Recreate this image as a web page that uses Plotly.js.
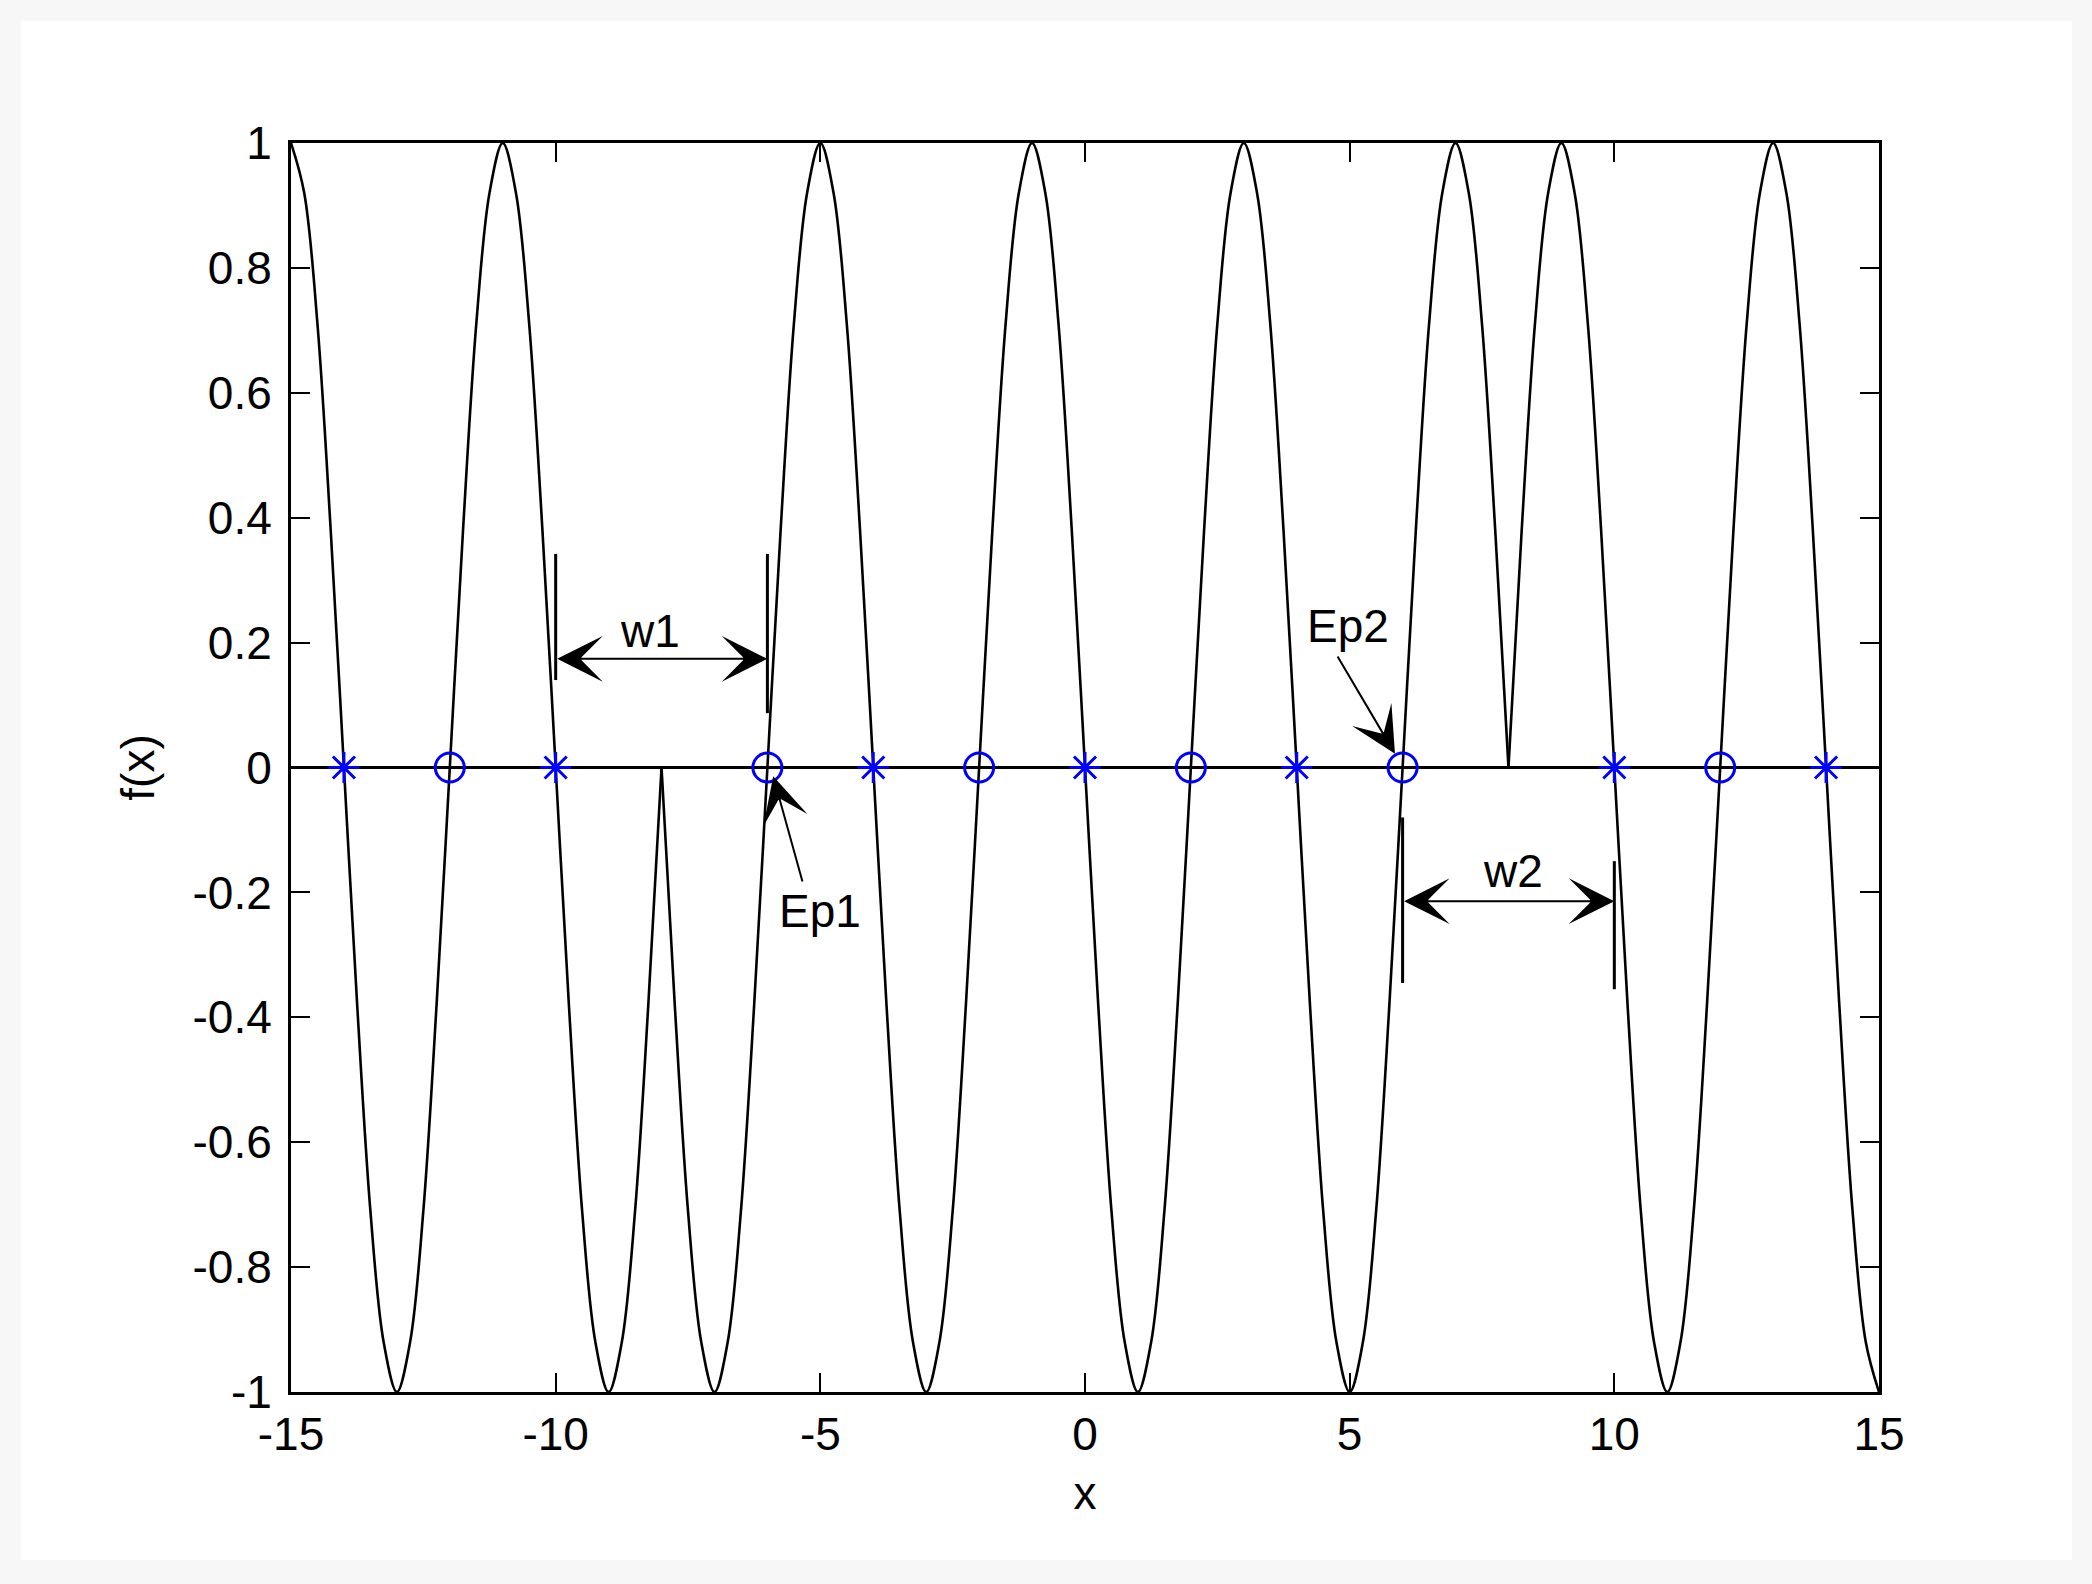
<!DOCTYPE html>
<html>
<head>
<meta charset="utf-8">
<script src="https://cdn.plot.ly/plotly-3.0.1.min.js"></script>
<style>
  html, body { margin: 0; padding: 0; background: #f7f7f7; }
  #plot { position: absolute; left: 21px; top: 21px; width: 2051px; height: 1539px; }
</style>
</head>
<body>
<div id="plot"></div>
<script>
// curve, three pieces (kinks at x=-8 and x=8)
var curveX = [
  -15, -14.75, -14.5, -14.25, -14, -13.75, -13.5, -13.25, -13, -12.75, -12.5, -12.25,
  -12, -11.75, -11.5, -11.25, -11, -10.75, -10.5, -10.25, -10, -9.75, -9.5, -9.25,
  -9, -8.75, -8.5, -8.25, -8, null,
  -8, -7.75, -7.5, -7.25, -7, -6.75, -6.5, -6.25, -6, -5.75, -5.5, -5.25,
  -5, -4.75, -4.5, -4.25, -4, -3.75, -3.5, -3.25, -3, -2.75, -2.5, -2.25,
  -2, -1.75, -1.5, -1.25, -1, -0.75, -0.5, -0.25, 0, 0.25, 0.5, 0.75,
  1, 1.25, 1.5, 1.75, 2, 2.25, 2.5, 2.75, 3, 3.25, 3.5, 3.75,
  4, 4.25, 4.5, 4.75, 5, 5.25, 5.5, 5.75, 6, 6.25, 6.5, 6.75,
  7, 7.25, 7.5, 7.75, 8, null,
  8, 8.25, 8.5, 8.75, 9, 9.25, 9.5, 9.75, 10, 10.25, 10.5, 10.75,
  11, 11.25, 11.5, 11.75, 12, 12.25, 12.5, 12.75, 13, 13.25, 13.5, 13.75,
  14, 14.25, 14.5, 14.75, 15
];
var curveY = [
  1, 0.92, 0.71, 0.38, 0, -0.38, -0.71, -0.92, -1, -0.92, -0.71, -0.38,
  0, 0.38, 0.71, 0.92, 1, 0.92, 0.71, 0.38, 0, -0.38, -0.71, -0.92,
  -1, -0.92, -0.71, -0.38, 0, null,
  0, -0.38, -0.71, -0.92, -1, -0.92, -0.71, -0.38, 0, 0.38, 0.71, 0.92,
  1, 0.92, 0.71, 0.38, 0, -0.38, -0.71, -0.92, -1, -0.92, -0.71, -0.38,
  0, 0.38, 0.71, 0.92, 1, 0.92, 0.71, 0.38, 0, -0.38, -0.71, -0.92,
  -1, -0.92, -0.71, -0.38, 0, 0.38, 0.71, 0.92, 1, 0.92, 0.71, 0.38,
  0, -0.38, -0.71, -0.92, -1, -0.92, -0.71, -0.38, 0, 0.38, 0.71, 0.92,
  1, 0.92, 0.71, 0.38, 0, null,
  0, 0.38, 0.71, 0.92, 1, 0.92, 0.71, 0.38, 0, -0.38, -0.71, -0.92,
  -1, -0.92, -0.71, -0.38, 0, 0.38, 0.71, 0.92, 1, 0.92, 0.71, 0.38,
  0, -0.38, -0.71, -0.92, -1
];

var baseX = [-15, 15];
var baseY = [0, 0];

var starX = [-14, -10, -4, 0, 4, 10, 14];
var starY = [0, 0, 0, 0, 0, 0, 0];
var ringX = [-12, -6, -2, 2, 6, 12];
var ringY = [0, 0, 0, 0, 0, 0];

var xTickVals = [-15, -10, -5, 0, 5, 10, 15];
var xTickText = ['-15', '-10', '-5', '0', '5', '10', '15'];
var yTickVals = [-1, -0.8, -0.6, -0.4, -0.2, 0, 0.2, 0.4, 0.6, 0.8, 1];
var yTickText = ['-1', '-0.8', '-0.6', '-0.4', '-0.2', '0', '0.2', '0.4', '0.6', '0.8', '1'];

// width markers: [x, y0, y1]
var barX = [-10, -6, 6, 10];
var barY0 = [0.342, 0.342, -0.08, -0.15];
var barY1 = [0.14, 0.087, -0.345, -0.355];

// arrows: head (x,y), tail (ax,ay), double-headed or not
var arrowX = [-6, 10, -5.89, 5.856];
var arrowY = [0.174, -0.214, -0.014, 0.022];
var arrowAX = [-10, 6, -5.33, 4.755];
var arrowAY = [0.174, -0.214, -0.185, 0.18];
var arrowBoth = [true, true, false, false];

var labelText = ['w1', 'w2', 'Ep1', 'Ep2'];
var labelX = [-8.22, 8.09, -5.0, 4.97];
var labelY = [0.219, -0.166, -0.229, 0.227];

var font = 'Liberation Sans, Arial, sans-serif';

var data = [
  {
    x: curveX, y: curveY, type: 'scatter', mode: 'lines',
    line: {color: 'black', width: 2.6, shape: 'spline'},
    connectgaps: false, hoverinfo: 'skip'
  },
  {
    x: baseX, y: baseY, type: 'scatter', mode: 'lines',
    line: {color: 'black', width: 3}
  },
  {
    x: starX, y: starY, type: 'scatter', mode: 'markers',
    marker: {symbol: 'asterisk-open', size: 26, color: '#0000ff', line: {color: '#0000ff', width: 3}}
  },
  {
    x: ringX, y: ringY, type: 'scatter', mode: 'markers',
    marker: {symbol: 'circle-open', size: 29, color: '#0000ff', line: {color: '#0000ff', width: 3}}
  }
];

var shapes = [];
for (var i = 0; i < barX.length; i++) {
  shapes.push({
    type: 'line', xref: 'x', yref: 'y',
    x0: barX[i], x1: barX[i], y0: barY0[i], y1: barY1[i],
    line: {color: 'black', width: 3}
  });
}

var annotations = [];
for (var j = 0; j < arrowX.length; j++) {
  annotations.push({
    x: arrowX[j], y: arrowY[j], xref: 'x', yref: 'y',
    ax: arrowAX[j], ay: arrowAY[j], axref: 'x', ayref: 'y',
    text: '', showarrow: true,
    arrowhead: 3, arrowsize: 3.8, arrowwidth: 2, arrowcolor: 'black',
    arrowside: arrowBoth[j] ? 'end+start' : 'end',
    startarrowhead: 3, startarrowsize: 3.8,
    standoff: 0, startstandoff: 0
  });
}
for (var k = 0; k < labelText.length; k++) {
  annotations.push({
    x: labelX[k], y: labelY[k], xref: 'x', yref: 'y',
    text: labelText[k], showarrow: false,
    xanchor: 'center', yanchor: 'middle',
    font: {family: font, size: 46, color: 'black'}
  });
}

var layout = {
  width: 2051,
  height: 1539,
  showlegend: false,
  paper_bgcolor: 'white',
  plot_bgcolor: 'white',
  margin: {l: 270, r: 193, t: 122, b: 168, pad: 0},
  font: {family: font, size: 46, color: 'black'},
  xaxis: {
    range: [-15, 15],
    tickvals: xTickVals, ticktext: xTickText,
    ticks: 'inside', ticklen: 19, tickwidth: 2, tickcolor: 'black',
    showline: true, linecolor: 'black', linewidth: 3, mirror: 'ticks',
    showgrid: false, zeroline: false,
    tickfont: {family: font, size: 46, color: 'black'},
    title: {text: 'x', font: {family: font, size: 46, color: 'black'}, standoff: 18}
  },
  yaxis: {
    range: [-1, 1],
    tickvals: yTickVals, ticktext: yTickText,
    ticks: 'inside', ticklen: 19, tickwidth: 2, tickcolor: 'black',
    showline: true, linecolor: 'black', linewidth: 3, mirror: 'ticks',
    showgrid: false, zeroline: false, ticklabelstandoff: 7,
    tickfont: {family: font, size: 46, color: 'black'},
    title: {text: 'f(x)', font: {family: font, size: 46, color: 'black'}, standoff: 24}
  },
  shapes: shapes,
  annotations: annotations
};

Plotly.newPlot('plot', data, layout, {displayModeBar: false, staticPlot: true});
</script>
</body>
</html>
